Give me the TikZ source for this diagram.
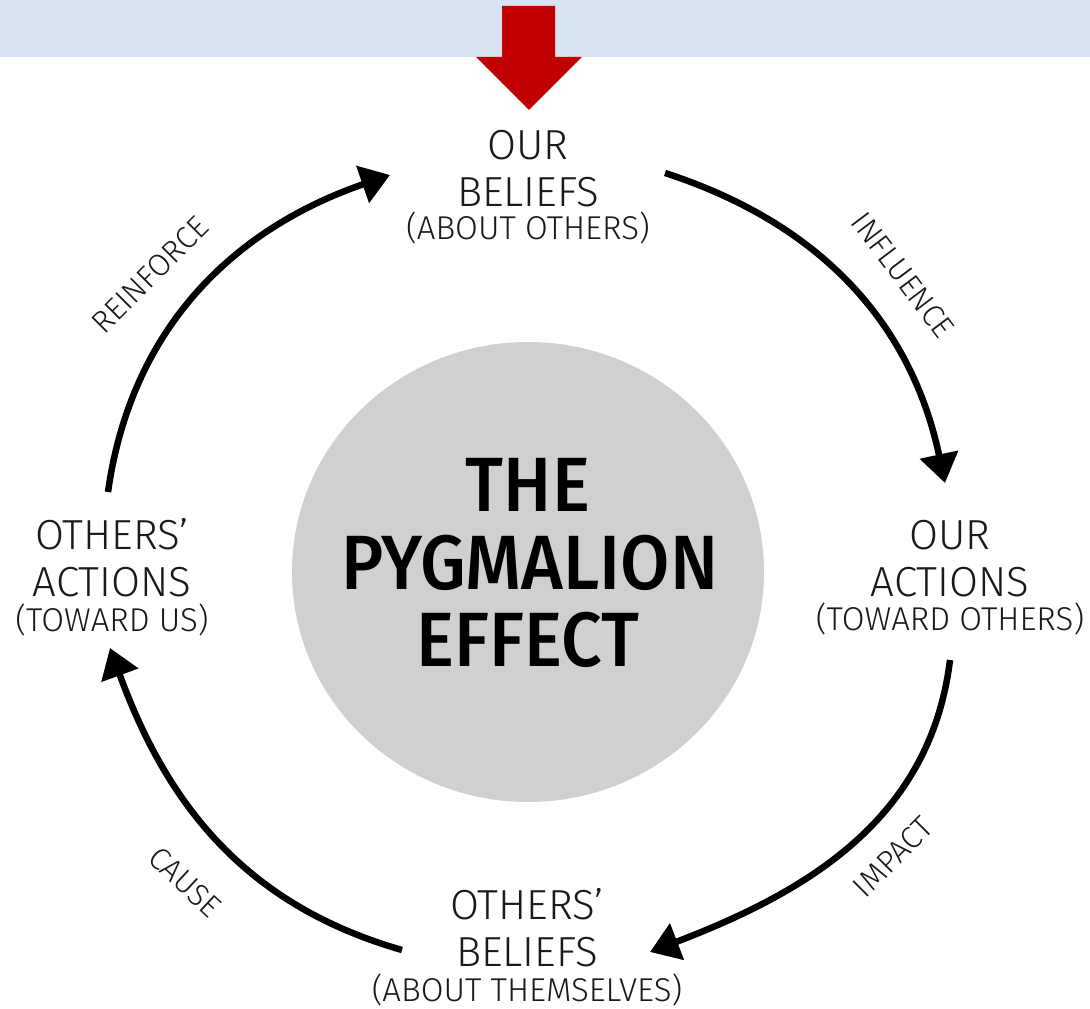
\documentclass[tikz,border=0pt]{standalone}
\usepackage{fontspec}
\usetikzlibrary{arrows.meta}
\newfontfamily\labelfont{Fira Sans Light}
\newfontfamily\titlefont{Fira Sans Medium}[FakeStretch=0.93]
\definecolor{bandblue}{HTML}{DAE3F3}
\definecolor{arrowred}{HTML}{C00000}
\definecolor{discgray}{HTML}{D0D0D0}
\tikzset{
  bigtext/.style={font=\labelfont\fontsize{42}{50}\selectfont, anchor=base, inner sep=0pt, text=black!90},
  subtext/.style={font=\labelfont\fontsize{33}{38}\selectfont, anchor=base, inner sep=0pt, text=black!90},
  arctext/.style={font=\labelfont\fontsize{31}{36}\selectfont, inner sep=0pt, text=black!90},
  titletext/.style={font=\titlefont\fontsize{77}{80}\selectfont, anchor=base, inner sep=0pt},
  cyclearrow/.style={line width=6.5pt, black, -{Triangle[length=29pt,width=38pt]}}
}
\begin{document}
\begin{tikzpicture}[x=1pt,y=1pt]
\useasboundingbox (0,0) rectangle (1090,1009);
% top band
\fill[bandblue] (0,952) rectangle (1090,1009);
% red arrow
\fill[arrowred] (502,1003) -- (555,1003) -- (555,952) -- (582,952) -- (529,899) -- (476,952) -- (502,952) -- cycle;
% central disc
\fill[discgray] (528,437) ellipse [x radius=236, y radius=230];
\node[titletext] (t1) at (528,497) {THE};
\node[titletext] (t2) at (530,419) {PYGMALION};
\node[titletext] (t3) at (528,342) {EFFECT};
% top label
\node[bigtext] (top1) at (528,849) {OUR};
\node[bigtext] (top2) at (528,802) {BELIEFS};
\node[subtext] (top3) at (528,769) {(ABOUT OTHERS)};
% right label
\node[bigtext] (r1) at (950,459) {OUR};
\node[bigtext] (r2) at (950,412) {ACTIONS};
\node[subtext] (r3) at (950,378) {(TOWARD OTHERS)};
% left label
\node[bigtext] (l1) at (112,459) {OTHERS’};
\node[bigtext] (l2) at (112,412) {ACTIONS};
\node[subtext] (l3) at (112,377) {(TOWARD US)};
% bottom label
\node[bigtext] (b1) at (527,89) {OTHERS’};
\node[bigtext] (b2) at (527,42) {BELIEFS};
\node[subtext] (b3) at (527,7) {(ABOUT THEMSELVES)};
% arc endpoints
\coordinate (reinS) at (108,517);
\coordinate (reinE) at (390,834);
\coordinate (inflS) at (665,836);
\coordinate (inflE) at (945,526);
\coordinate (impS) at (950,349);
\coordinate (impE) at (650,57);
\coordinate (causeS) at (402,59);
\coordinate (causeE) at (110,361);
% arcs
\draw[cyclearrow] (reinS) to[out=82,in=199] (reinE);
\draw[cyclearrow] (inflS) to[out=-18,in=102] (inflE);
\draw[cyclearrow] (impS) to[out=-97,in=21] (impE);
\draw[cyclearrow] (causeS) to[out=164,in=-70] (causeE);
% arc labels
\node[arctext, rotate=45] (lr) at (150,734) {REINFORCE};
\node[arctext, rotate=-53] (li) at (903,734) {INFLUENCE};
\node[arctext, rotate=45] (lm) at (893,152) {IMPACT};
\node[arctext, rotate=-43] (lc) at (185,127) {CAUSE};
\end{tikzpicture}
\end{document}
